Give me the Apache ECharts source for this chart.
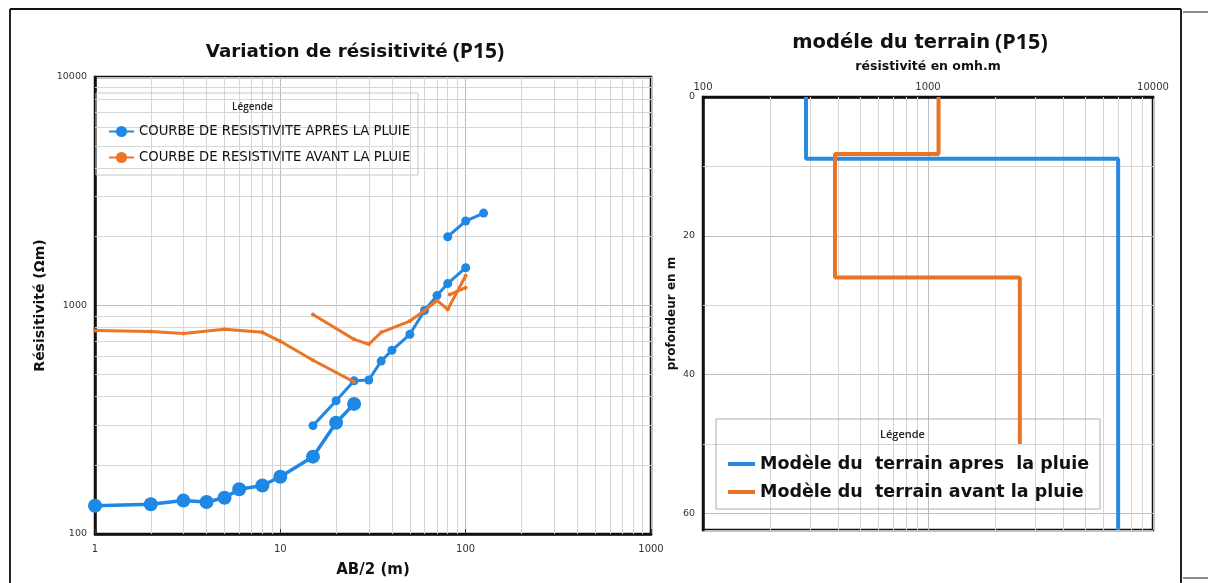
<!DOCTYPE html>
<html>
<head>
<meta charset="utf-8">
<script src="https://cdn.jsdelivr.net/npm/echarts@6/dist/echarts.min.js"></script>
<style>
html,body{margin:0;padding:0;background:#fff;}
#chart{width:1208px;height:583px;}
</style>
</head>
<body>
<div id="chart"></div>
<script>
// ---------- DATA ----------
// Left chart: apparent resistivity vs AB/2
const blueName = 'COURBE DE RESISTIVITE APRES LA PLUIE';
const orangeName = 'COURBE DE RESISTIVITE AVANT LA PLUIE';

const blueA_x = [1, 2, 3, 4, 5, 6, 8, 10, 15, 20, 25];
const blueA_y = [133, 135, 140, 138, 144, 157, 163, 178, 218, 307, 371];
const blueB_x = [15, 20, 25, 30, 35, 40, 50, 60, 70, 80, 100];
const blueB_y = [298, 383, 468, 472, 571, 637, 748, 951, 1105, 1247, 1463];
const blueC_x = [80, 100, 125];
const blueC_y = [2000, 2343, 2537];

const orangeA_x = [1, 2, 3, 5, 8, 10, 15, 25];
const orangeA_y = [778, 770, 755, 787, 763, 697, 576, 463];
const orangeB_x = [15, 25, 30, 35, 50, 60, 70, 80, 100];
const orangeB_y = [914, 711, 677, 763, 855, 951, 1052, 961, 1350];
const orangeC_x = [82, 100];
const orangeC_y = [1116, 1197];

// Right chart: layered terrain model
const modelAfterName = 'Modèle du  terrain apres  la pluie';
const modelBeforeName = 'Modèle du  terrain avant la pluie';
const afterRes = [287, 7000];
const afterDepth = [0, 8.9, 62.4];
const beforeRes = [1114, 386, 2560];
const beforeDepth = [0, 8.2, 26, 50];

// grid (minor) values
const leftMinorX = [2,3,4,5,6,7,8,9,20,30,40,50,60,70,80,90,200,300,400,500,600,700,800,900];
const leftMinorY = [200,300,400,500,600,700,800,900,2000,3000,4000,5000,6000,7000,8000,9000];
const rightMinorX = [200,300,400,500,600,700,800,900,2000,3000,4000,5000,6000,7000,8000,9000];
const rightMinorY = [10, 30, 50];
const rightDepthMax = 62.4;

// ---------- helpers ----------
const zip = (xs, ys) => xs.map((x, i) => [x, ys[i]]);
function steps(res, depth) {
  const pts = [];
  for (let i = 0; i < res.length; i++) {
    pts.push([res[i], depth[i]]);
    pts.push([res[i], depth[i + 1]]);
  }
  return pts;
}

const BLUE = '#1e88e5';
const ORANGE = '#ec7424';
const MINOR = '#d6d6d6';
const MAJOR = '#bcbcbc';
const NARROW = "'DejaVu Sans Condensed','Liberation Sans',sans-serif";
const BOLD = "'DejaVu Sans',sans-serif";
const TICKF = "'DejaVu Sans',sans-serif";

const fmt = v => String(Math.round(v));

const chart = echarts.init(document.getElementById('chart'), null, {renderer: 'canvas'});

function gridMarks(xs, ys) {
  return {
    silent: true, symbol: 'none', z: 1,
    label: {show: false},
    lineStyle: {color: MINOR, width: 1, type: 'solid'},
    emphasis: {disabled: true},
    data: xs.map(v => ({xAxis: v})).concat(ys.map(v => ({yAxis: v})))
  };
}

const option = {
  animation: false,
  backgroundColor: '#fff',
  title: [
    {
      text: '{a|Variation de résisitivité} {b|(P15)}',
      left: 350, top: 37, textAlign: 'center',
      textStyle: {
        rich: {
          a: {fontFamily: BOLD, fontWeight: 'bold', fontSize: 18.3, color: '#111'},
          b: {fontFamily: "'Open Sans',sans-serif", fontWeight: 700, fontSize: 21, color: '#111'}
        }
      }
    },
    {
      text: '{a|modéle du terrain} {b|(P15)}',
      left: 915, top: 27, textAlign: 'center',
      textStyle: {
        rich: {
          a: {fontFamily: BOLD, fontWeight: 'bold', fontSize: 19.5, color: '#111'},
          b: {fontFamily: "'Open Sans',sans-serif", fontWeight: 700, fontSize: 21.5, color: '#111'}
        }
      }
    }
  ],
  legend: [
    {
      left: 103, top: 119, orient: 'vertical',
      itemWidth: 25, itemHeight: 14, itemGap: 11,
      textStyle: {fontFamily: NARROW, fontSize: 14.7, color: '#111'},
      data: [blueName, orangeName],
      selectedMode: false
    },
    {
      left: 723, top: 450, orient: 'vertical',
      itemWidth: 27, itemHeight: 4, itemGap: 10, icon: 'rect',
      textStyle: {fontFamily: BOLD, fontWeight: 'bold', fontSize: 17.5, color: '#111'},
      data: [modelAfterName, modelBeforeName],
      selectedMode: false
    }
  ],
  graphic: [
    // outer frame
    {type: 'line', shape: {x1: 10, y1: 9, x2: 1181, y2: 9}, style: {stroke: '#111', lineWidth: 2}, z: 100},
    {type: 'line', shape: {x1: 10, y1: 9, x2: 10, y2: 583}, style: {stroke: '#222', lineWidth: 2}, z: 100},
    {type: 'line', shape: {x1: 1181, y1: 9, x2: 1181, y2: 583}, style: {stroke: '#222', lineWidth: 2}, z: 100},
    {type: 'line', shape: {x1: 1183, y1: 12, x2: 1208, y2: 12}, style: {stroke: '#666', lineWidth: 1.5}, z: 100},
    {type: 'line', shape: {x1: 1183, y1: 578, x2: 1208, y2: 578}, style: {stroke: '#666', lineWidth: 1.5}, z: 100},
    // legend boxes
    {type: 'rect', shape: {x: 96, y: 93, width: 322, height: 82}, style: {fill: 'none', stroke: '#c8c8c8', lineWidth: 1}, z: 3},
    {type: 'rect', shape: {x: 716, y: 419, width: 384, height: 90}, style: {fill: 'none', stroke: '#aaaaaa', lineWidth: 1}, z: 3},
    {type: 'text', left: 232, top: 102, style: {text: 'Légende', font: "600 10px 'Open Sans',sans-serif", fill: '#222'}, z: 10},
    {type: 'text', left: 880, top: 429, style: {text: 'Légende', font: "600 11px 'Open Sans',sans-serif", fill: '#222'}, z: 10}
  ],
  grid: [
    {left: 95, top: 77, width: 556, height: 460, show: true, borderColor: '#111', borderWidth: 2.5, backgroundColor: 'transparent'},
    {left: 703, top: 97, width: 450, height: 433, show: true, borderColor: '#111', borderWidth: 2.5, backgroundColor: 'transparent'}
  ],
  xAxis: [
    {
      gridIndex: 0, type: 'log', logBase: 10, min: 1, max: 1000,
      name: 'AB/2 (m)', nameLocation: 'middle', nameGap: 29,
      nameTextStyle: {fontFamily: BOLD, fontWeight: 'bold', fontSize: 15, color: '#111'},
      axisLine: {show: true, lineStyle: {color: '#111', width: 2.5}},
      axisTick: {show: true, inside: true, length: 5, lineStyle: {color: '#333'}},
      axisLabel: {formatter: fmt, margin: 10, fontFamily: TICKF, fontSize: 10, color: '#333'},
      splitLine: {show: true, lineStyle: {color: MAJOR, width: 1}}
    },
    {
      gridIndex: 1, type: 'log', logBase: 10, min: 100, max: 10000, position: 'top',
      axisLine: {show: true, lineStyle: {color: '#111', width: 2.5}},
      axisTick: {show: false},
      axisLabel: {formatter: fmt, margin: 5, fontFamily: TICKF, fontSize: 10, color: '#333'},
      splitLine: {show: true, lineStyle: {color: MAJOR, width: 1}},
      name: 'résistivité en omh.m', nameLocation: 'middle', nameGap: 24,
      nameTextStyle: {fontFamily: BOLD, fontWeight: 'bold', fontSize: 12.5, color: '#111'}
    }
  ],
  yAxis: [
    {
      gridIndex: 0, type: 'log', logBase: 10, min: 100, max: 10000,
      name: 'Résisitivité (Ωm)', nameLocation: 'middle', nameGap: 48,
      nameTextStyle: {fontFamily: BOLD, fontWeight: 'bold', fontSize: 14, color: '#111'},
      axisLine: {show: true, lineStyle: {color: '#111', width: 2.5}},
      axisTick: {show: false},
      axisLabel: {formatter: fmt, margin: 8, fontFamily: TICKF, fontSize: 9.5, color: '#333'},
      splitLine: {show: true, lineStyle: {color: MAJOR, width: 1}}
    },
    {
      gridIndex: 1, type: 'value', min: 0, max: rightDepthMax, interval: 20, inverse: true,
      name: 'profondeur en m', nameLocation: 'middle', nameGap: 25,
      nameTextStyle: {fontFamily: BOLD, fontWeight: 'bold', fontSize: 12, color: '#111'},
      axisLine: {show: true, lineStyle: {color: '#111', width: 2.5}},
      axisTick: {show: false},
      axisLabel: {margin: 8, fontFamily: TICKF, fontSize: 9.5, color: '#333', showMaxLabel: false},
      splitLine: {show: true, lineStyle: {color: MAJOR, width: 1}}
    }
  ],
  series: [
    {
      name: 'grid-left', type: 'line', xAxisIndex: 0, yAxisIndex: 0, z: 1,
      data: [[1, 100]], symbol: 'none', lineStyle: {opacity: 0}, silent: true,
      markLine: gridMarks(leftMinorX, leftMinorY)
    },
    {
      name: 'grid-right', type: 'line', xAxisIndex: 1, yAxisIndex: 1, z: 1,
      data: [[100, 0]], symbol: 'none', lineStyle: {opacity: 0}, silent: true,
      markLine: gridMarks(rightMinorX, rightMinorY)
    },
    {
      name: blueName, type: 'line', xAxisIndex: 0, yAxisIndex: 0, z: 3,
      data: zip(blueA_x, blueA_y), symbol: 'circle', symbolSize: 14,
      itemStyle: {color: BLUE}, lineStyle: {color: BLUE, width: 3.5}
    },
    {
      name: blueName, type: 'line', xAxisIndex: 0, yAxisIndex: 0, z: 3,
      data: zip(blueB_x, blueB_y), symbol: 'circle', symbolSize: 9,
      itemStyle: {color: BLUE}, lineStyle: {color: BLUE, width: 3}
    },
    {
      name: blueName, type: 'line', xAxisIndex: 0, yAxisIndex: 0, z: 3,
      data: zip(blueC_x, blueC_y), symbol: 'circle', symbolSize: 9,
      itemStyle: {color: BLUE}, lineStyle: {color: BLUE, width: 3}
    },
    {
      name: orangeName, type: 'line', xAxisIndex: 0, yAxisIndex: 0, z: 4,
      data: zip(orangeA_x, orangeA_y), symbol: 'circle', symbolSize: 4,
      itemStyle: {color: ORANGE}, lineStyle: {color: ORANGE, width: 3}
    },
    {
      name: orangeName, type: 'line', xAxisIndex: 0, yAxisIndex: 0, z: 4,
      data: zip(orangeB_x, orangeB_y), symbol: 'circle', symbolSize: 4,
      itemStyle: {color: ORANGE}, lineStyle: {color: ORANGE, width: 3}
    },
    {
      name: orangeName, type: 'line', xAxisIndex: 0, yAxisIndex: 0, z: 4,
      data: zip(orangeC_x, orangeC_y), symbol: 'circle', symbolSize: 4,
      itemStyle: {color: ORANGE}, lineStyle: {color: ORANGE, width: 3}
    },
    {
      name: modelAfterName, type: 'line', xAxisIndex: 1, yAxisIndex: 1, z: 3,
      data: steps(afterRes, afterDepth), symbol: 'none',
      itemStyle: {color: '#2a8ae2'}, lineStyle: {color: '#2a8ae2', width: 4}
    },
    {
      name: modelBeforeName, type: 'line', xAxisIndex: 1, yAxisIndex: 1, z: 3,
      data: steps(beforeRes, beforeDepth), symbol: 'none',
      itemStyle: {color: '#ea7426'}, lineStyle: {color: '#ea7426', width: 4}
    }
  ]
};
chart.setOption(option);
</script>
</body>
</html>
